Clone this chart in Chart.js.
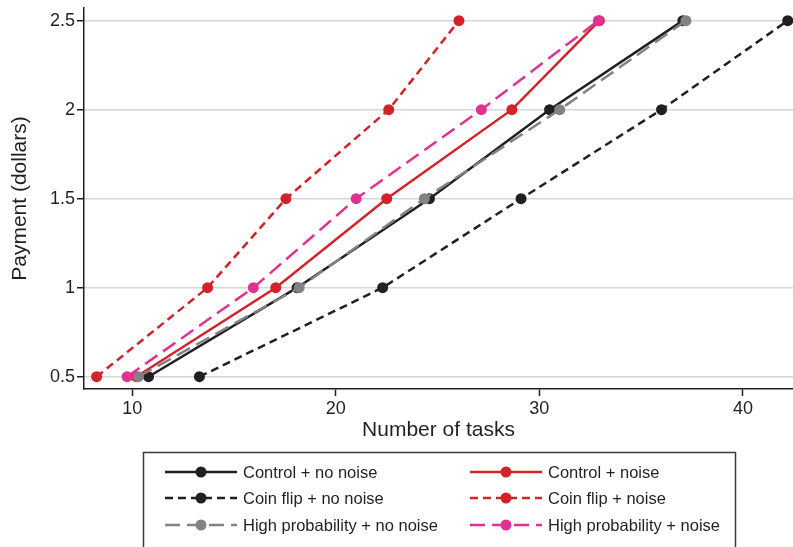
<!DOCTYPE html>
<html>
<head>
<meta charset="utf-8">
<script src="https://cdn.jsdelivr.net/npm/chart.js@4"></script>
<style>
  html, body { margin: 0; padding: 0; background: #fff; }
  #wrap { width: 793px; height: 547px; }
</style>
</head>
<body>
<div id="wrap"><canvas id="chart" width="793" height="547"></canvas></div>
<script>
// ====== Data ======
const payments = [0.5, 1, 1.5, 2, 2.5];
const controlNoNoise = [10.8, 18.1, 24.6, 30.5, 37.05];
const coinFlipNoNoise = [13.3, 22.3, 29.1, 36.0, 42.2];
const highProbNoNoise = [10.3, 18.2, 24.35, 31.0, 37.2];
const controlNoise = [10.2, 17.05, 22.5, 28.65, 32.95];
const coinFlipNoise = [8.25, 13.7, 17.55, 22.6, 26.05];
const highProbNoise = [9.75, 15.95, 21.0, 27.15, 32.9];

const seriesLabels = [
  "Control + no noise",
  "Coin flip + no noise",
  "High probability + no noise",
  "Control + noise",
  "Coin flip + noise",
  "High probability + noise",
];
const xTicks = [10, 20, 30, 40];
const yTicks = [0.5, 1, 1.5, 2, 2.5];

const BLACK = "#231f20";
const RED = "#d2232a";
const PINK = "#e0338f";
const GRAY = "#808285";
const FONT = "'Liberation Sans', Arial, sans-serif";

function pts(xs) {
  return xs.map((x, i) => ({ x: x, y: payments[i] }));
}

function series(label, xs, color, dash, order) {
  return {
    label: label,
    data: pts(xs),
    showLine: true,
    borderColor: color,
    backgroundColor: color,
    pointBackgroundColor: color,
    pointBorderColor: color,
    borderWidth: 2.5,
    borderDash: dash,
    pointRadius: 5.5,
    pointBorderWidth: 0,
    clip: false,
    order: order,
  };
}

// custom boxed legend under the plot, two columns
const boxLegend = {
  id: "boxLegend",
  afterDraw(chart) {
    const ctx = chart.ctx;
    ctx.save();
    ctx.strokeStyle = "#3a3a3a";
    ctx.lineWidth = 1.5;
    ctx.strokeRect(143.5, 452.5, 592, 120);
    const colX = [165, 470];
    const rowY = [472, 498, 525];
    chart.data.datasets.forEach((ds, i) => {
      const x0 = colX[Math.floor(i / 3)];
      const y = rowY[i % 3];
      ctx.strokeStyle = ds.borderColor;
      ctx.lineWidth = ds.borderWidth;
      ctx.setLineDash(ds.borderDash || []);
      ctx.beginPath();
      ctx.moveTo(x0, y);
      ctx.lineTo(x0 + 72, y);
      ctx.stroke();
      ctx.setLineDash([]);
      ctx.fillStyle = ds.pointBackgroundColor;
      ctx.beginPath();
      ctx.arc(x0 + 36, y, 5.5, 0, Math.PI * 2);
      ctx.fill();
      ctx.fillStyle = BLACK;
      ctx.font = "16.5px " + FONT;
      ctx.textBaseline = "middle";
      ctx.fillText(ds.label, x0 + 78, y + 1);
    });
    ctx.restore();
  },
};

new Chart(document.getElementById("chart"), {
  type: "scatter",
  data: {
    datasets: [
      series(seriesLabels[0], controlNoNoise, BLACK, [], 6),
      series(seriesLabels[1], coinFlipNoNoise, BLACK, [8, 5], 5),
      series(seriesLabels[2], highProbNoNoise, GRAY, [15, 7], 2),
      series(seriesLabels[3], controlNoise, RED, [], 4),
      series(seriesLabels[4], coinFlipNoise, RED, [8, 5], 3),
      series(seriesLabels[5], highProbNoise, PINK, [15, 7], 1),
    ],
  },
  options: {
    responsive: false,
    animation: false,
    layout: { autoPadding: false, padding: { top: 8, right: 0, bottom: 104, left: 0 } },
    plugins: { legend: { display: false }, tooltip: { enabled: false } },
    scales: {
      x: {
        type: "linear",
        min: 7.63,
        max: 42.46,
        afterBuildTicks: (s) => { s.ticks = xTicks.map((v) => ({ value: v })); },
        afterFit: (s) => { s.height = 54; s.paddingLeft = 0; s.paddingRight = 0; },
        border: { display: true, color: BLACK, width: 1.5 },
        grid: { drawOnChartArea: false, drawTicks: true, tickLength: 7, tickColor: BLACK, tickWidth: 1.5 },
        ticks: { color: BLACK, padding: 2, font: { family: FONT, size: 18 } },
        title: { display: true, text: "Number of tasks", color: BLACK, padding: { top: 0, bottom: 0 }, font: { family: FONT, size: 21 } },
      },
      y: {
        type: "linear",
        min: 0.431,
        max: 2.571,
        afterBuildTicks: (s) => { s.ticks = yTicks.map((v) => ({ value: v })); },
        afterFit: (s) => { s.width = 84; s.paddingTop = 0; s.paddingBottom = 0; },
        border: { display: true, color: BLACK, width: 1.5 },
        grid: { color: "#d6d6d6", lineWidth: 1.5, drawTicks: true, tickLength: 7, tickColor: BLACK, tickWidth: 1.5 },
        ticks: { color: BLACK, padding: 2, font: { family: FONT, size: 18 }, callback: (v) => String(v) },
        title: { display: true, text: "Payment (dollars)", color: BLACK, padding: { top: 8, bottom: 0 }, font: { family: FONT, size: 21 } },
      },
    },
  },
  plugins: [boxLegend],
});
</script>
</body>
</html>
